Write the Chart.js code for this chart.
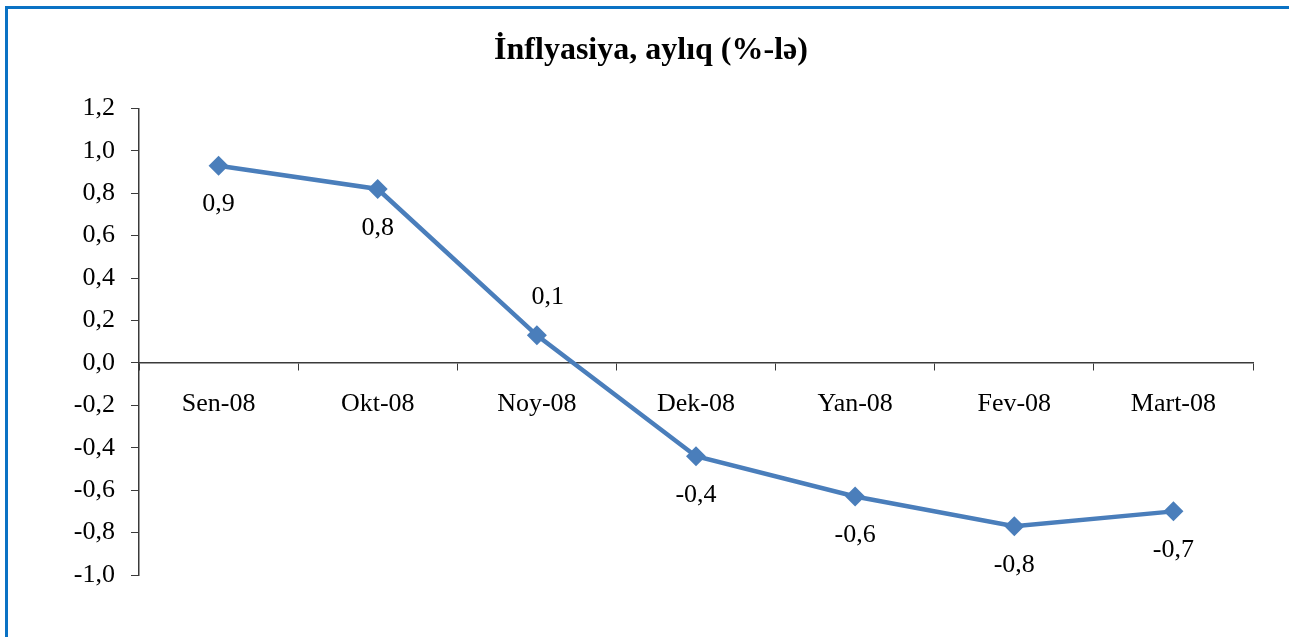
<!DOCTYPE html>
<html>
<head>
<meta charset="utf-8">
<script src="https://cdn.jsdelivr.net/npm/chart.js@4"></script>
<style>
  html, body { margin: 0; padding: 0; background: #fff; }
  #wrap { position: relative; width: 1289px; height: 637px; overflow: hidden; }
  #frame { position: absolute; left: 5px; top: 6px; right: -10px; bottom: -10px;
           border-left: 3px solid #0a72c4; border-top: 3px solid #0a72c4; }
  canvas { position: absolute; left: 0; top: 0; }
</style>
</head>
<body>
<div id="wrap">
  <div id="frame"></div>
  <canvas id="inflChart" width="1289" height="637"></canvas>
</div>
<script>
// Aylıq inflyasiya
const aylar = ['Sen-08', 'Okt-08', 'Noy-08', 'Dek-08', 'Yan-08', 'Fev-08', 'Mart-08'];
const inflyasiya = [0.93, 0.82, 0.13, -0.44, -0.63, -0.77, -0.70];
const yTicks = [1.2, 1.0, 0.8, 0.6, 0.4, 0.2, 0.0, -0.2, -0.4, -0.6, -0.8, -1.0];

const serif = "'Liberation Serif', 'Times New Roman', serif";
const axisColor = '#3a3a3a';
const lineColor = '#4a7ebb';

const fmt = v => v.toFixed(1).replace('.', ',');

// etiketlərin yeri: 0,1 nöqtənin üstündə, qalanları altında
const labelAbove = [false, false, true, false, false, false, false];

const dataLabels = {
    id: 'dataLabels',
    afterDatasetsDraw(chart) {
        const ctx = chart.ctx;
        const meta = chart.getDatasetMeta(0);
        ctx.save();
        ctx.font = '26px ' + serif;
        ctx.fillStyle = '#000';
        ctx.textAlign = 'center';
        ctx.textBaseline = 'middle';
        meta.data.forEach((pt, i) => {
            const v = chart.data.datasets[0].data[i];
            const dx = labelAbove[i] ? 11 : 0;
            const dy = labelAbove[i] ? -38 : 39;
            ctx.fillText(fmt(v), pt.x + dx, pt.y + dy);
        });
        ctx.restore();
    }
};

const ctx = document.getElementById('inflChart').getContext('2d');
new Chart(ctx, {
    type: 'line',
    data: {
        labels: aylar,
        datasets: [{
            data: inflyasiya,
            borderColor: lineColor,
            backgroundColor: lineColor,
            borderWidth: 4.5,
            tension: 0,
            pointStyle: 'rectRot',
            pointRadius: 10,
            pointBorderWidth: 0,
            pointBackgroundColor: lineColor
        }]
    },
    options: {
        responsive: false,
        animation: false,
        layout: { padding: { top: 10, left: 49, right: 36, bottom: 62 } },
        plugins: {
            legend: { display: false },
            tooltip: { enabled: false },
            title: {
                display: true,
                text: 'İnflyasiya, aylıq (%-lə)',
                color: '#000',
                font: { family: serif, size: 32, weight: 'bold' },
                padding: { top: 22, bottom: 38 }
            }
        },
        scales: {
            x: {
                position: { y: 0 },
                offset: true,
                grid: { drawOnChartArea: false, tickLength: 7, color: axisColor, offset: true },
                border: { color: axisColor, width: 1.5 },
                ticks: { color: '#000', font: { family: serif, size: 26 }, padding: 19, maxRotation: 0 }
            },
            y: {
                min: -1.0,
                max: 1.2,
                afterBuildTicks: s => { s.ticks = yTicks.map(v => ({ value: v })); },
                afterFit: s => { s.width = 90; },
                grid: { drawOnChartArea: false, tickLength: 8, color: axisColor },
                border: { color: axisColor, width: 1.5 },
                ticks: { color: '#000', font: { family: serif, size: 26 }, padding: 16, callback: v => fmt(v) }
            }
        }
    },
    plugins: [dataLabels]
});
</script>
</body>
</html>
